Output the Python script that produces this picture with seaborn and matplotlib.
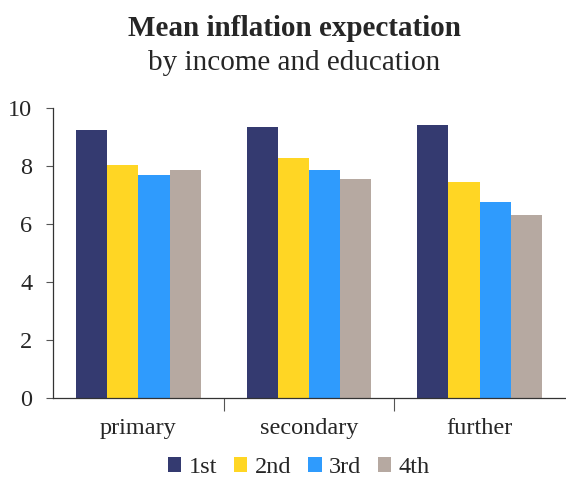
import pandas as pd
import numpy as np
import matplotlib.pyplot as plt
import seaborn as sns
from matplotlib.ticker import FixedLocator
from matplotlib.font_manager import FontProperties

# Data
education = ['primary', 'secondary', 'further']
quartiles = ['1st', '2nd', '3rd', '4th']
q1 = [9.24, 9.36, 9.41]
q2 = [8.03, 8.28, 7.45]
q3 = [7.68, 7.85, 6.77]
q4 = [7.86, 7.55, 6.31]
colors = ['#343a70', '#ffd624', '#2f9bfd', '#b6a9a1']

df = pd.DataFrame({
    'education': education * 4,
    'quartile': [q for q in quartiles for _ in education],
    'value': q1 + q2 + q3 + q4,
})

sns.set_style('white')
plt.rcParams['font.family'] = ['Liberation Serif', 'DejaVu Serif']

fig = plt.figure(figsize=(5.66, 4.82), dpi=100)
ax = fig.add_axes([0.094, 0.174, 0.904, 0.602])

sns.barplot(data=df, x='education', y='value', hue='quartile',
            order=education, hue_order=quartiles, palette=colors,
            width=0.73, gap=0, saturation=1, linewidth=0, ax=ax, legend=True)

ax.set_xlim(-0.5, 2.5)
ax.set_ylim(0, 10)
ax.set_yticks([0, 2, 4, 6, 8, 10])
ax.set_xlabel('')
ax.set_ylabel('')
for s in ['top', 'right']:
    ax.spines[s].set_visible(False)
for s in ['left', 'bottom']:
    ax.spines[s].set_color('#333333')
    ax.spines[s].set_linewidth(0.9)

ax.tick_params(axis='y', labelsize=17.5, length=5, width=0.8, color='#555555',
               direction='out', left=True, pad=10)
ax.tick_params(axis='x', which='major', labelsize=17.5, length=0, pad=14)
ax.xaxis.set_minor_locator(FixedLocator([0.5, 1.5]))
ax.tick_params(axis='x', which='minor', length=9, width=0.8, color='#555555',
               direction='out', bottom=True)

# move the legend below the axis
handles, labels = ax.get_legend_handles_labels()
ax.get_legend().remove()
legend_font = FontProperties(family='Liberation Serif', size=17.5)
leg = fig.legend(handles, quartiles, loc='center', bbox_to_anchor=(0.528, 0.03),
                 ncol=4, frameon=False, prop=legend_font,
                 handlelength=0.55, handleheight=0.55,
                 handletextpad=0.3, columnspacing=0.7, borderpad=0.2)

fig.text(0.52, 0.94, 'Mean inflation expectation', ha='center', va='center',
         fontsize=21, fontweight='bold')
fig.text(0.52, 0.87, 'by income and education', ha='center', va='center',
         fontsize=21)

fig.savefig('out.png', dpi=100)
